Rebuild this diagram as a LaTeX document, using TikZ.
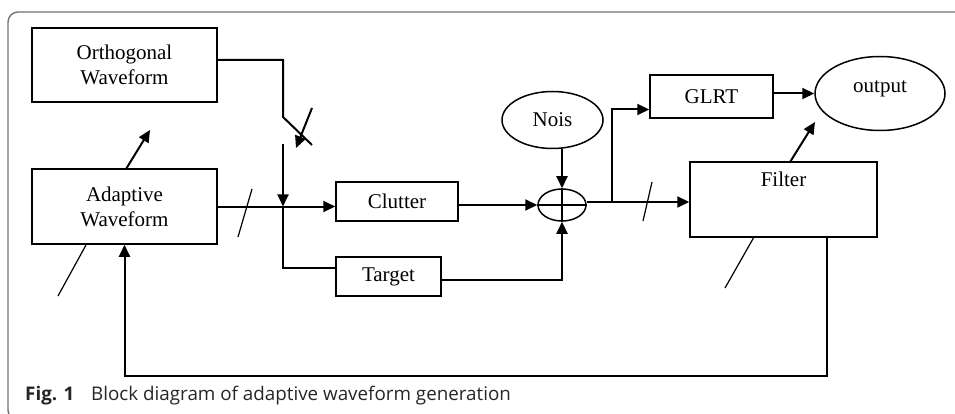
\documentclass[tikz,border=0pt]{standalone}
\usepackage{fontspec}
\setmainfont{Liberation Serif}
\newfontfamily\capfont{Open Sans}
\usepackage{tikz}
\usetikzlibrary{arrows.meta}
\usetikzlibrary{shapes.geometric}

\begin{document}
\begin{tikzpicture}[x=1pt,y=-1pt,
        block/.style={draw,rectangle,line width=1.5pt,inner sep=0pt,align=center,
            font=\fontsize{21}{25}\selectfont},
        oval/.style={draw,ellipse,line width=1.5pt,inner sep=0pt,
            font=\fontsize{21}{25}\selectfont},
        wire/.style={line width=2pt},
        feed/.style={wire,-{Triangle[length=12pt,width=11pt]}},
        bus/.style={line width=1.2pt}]

        \useasboundingbox (0,0) rectangle (955,414);

        % Frame
        \draw[black!55,line width=1.4pt,rounded corners=10pt] (970,12) -| (8,420) -- (30,420);

        % Draw blocks
        \node[block,minimum width=185pt,minimum height=74pt] (orth) at (124.5,65) {Orthogonal\\Waveform};
        \node[block,minimum width=185pt,minimum height=75pt] (adapt) at (124.5,206.5) {Adaptive\\Waveform};
        \node[block,minimum width=122pt,minimum height=39pt] (clutter) at (397,201.5) {Clutter};
        \node[block,minimum width=105pt,minimum height=39pt] (target) at (388.5,276.5) {Target};
        \node[oval,minimum width=101pt,minimum height=57pt] (nois) at (552.5,120) {Nois};
        \node[oval,minimum width=48pt,minimum height=32pt] (sum) at (562,205) {};
        \node[block,minimum width=123pt,minimum height=43pt] (glrt) at (711.5,96.5) {GLRT};
        \node[block,minimum width=187pt,minimum height=75pt,
            label={[anchor=north,yshift=-7pt,font=\fontsize{21}{25}\selectfont]north:Filter}] (filter) at (783.5,199.5) {};
        \node[oval,minimum width=130pt,minimum height=74pt,
            label={[yshift=5pt,font=\fontsize{21}{25}\selectfont]center:output}] (output) at (880,93.5) {};

        % Summing junction
        \draw[line width=1.5pt] (sum.north) -- (sum.south) (sum.west) -- (sum.east);

        % Switch
        \coordinate (sw-a) at (283,117);
        \coordinate (sw-b) at (312,145);
        \coordinate (sw-c) at (283,144);
        \coordinate (lever-a) at (312,108);
        \coordinate (lever-b) at (296,148);
        \coordinate (split) at (283,206.5);
        \draw[wire] ([yshift=5pt]orth.east) -| (sw-a) -- (sw-b);
        \draw[feed] (lever-a) -- (lever-b);
        \draw[feed] (sw-c) -- (split);

        % Draw edges
        \coordinate (to-orth) at (150,130);
        \coordinate (tap) at (612,202);
        \coordinate (to-out) at (815,122);
        \coordinate (loop) at (827,376);
        \draw[feed] ([xshift=2pt]adapt.north) -- (to-orth);
        \draw[feed] (adapt.east) -- (adapt.east -| clutter.west);
        \draw[wire] (split) |- ([yshift=8.5pt]target.west);
        \draw[feed] (sum.west -| clutter.east) -- (sum.west);
        \draw[feed] ([yshift=-3.5pt]target.east) -| (sum.south);
        \draw[feed] (sum.north |- nois.south) -- (sum.north);
        \draw[feed] ([yshift=3pt]sum.east) -- (tap -| filter.west);
        \draw[feed] (tap) |- ([yshift=-13pt]glrt.west);
        \draw[feed] ([yshift=3pt]glrt.east) -- (output.west);
        \draw[feed] ([xshift=7pt]filter.north) -- (to-out);
        \draw[feed] (loop |- filter.south) -- (loop) -| (adapt.south);

        % Bus width marks
        \foreach \xa/\ya/\xb/\yb in {58/296/86/245, 238/237/252/189, 643/221/652/182, 725/288/754/237} {
            \draw[bus] (\xa,\ya) -- (\xb,\yb);
        }

        % Caption
        \node[anchor=base west,inner sep=0pt,text=black!85,font=\capfont\bfseries\fontsize{18.8}{20}\selectfont] (fig) at (25,400) {Fig. 1};
        \node[anchor=base west,inner sep=0pt,text=black!85,font=\capfont\fontsize{18.8}{20}\selectfont] (cap) at (91,400)
            {Block diagram of adaptive waveform generation};

    \end{tikzpicture}
\end{document}
